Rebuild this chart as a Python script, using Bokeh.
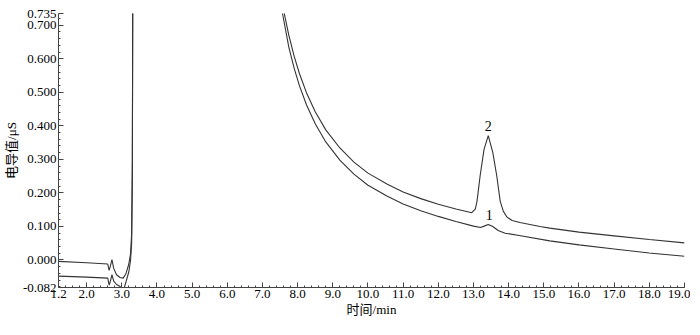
from bokeh.plotting import figure
from bokeh.models import FixedTicker, NumeralTickFormatter, Range1d, ColumnDataSource
from bokeh.core.properties import value
from bokeh.embed import file_html
from bokeh.resources import INLINE

# ---- data ----
time_upper = [1.2, 2.0, 2.6, 2.64, 2.67, 2.72, 2.77, 2.85, 2.95, 3.04, 3.12, 3.2, 3.25, 3.28, 3.30, 3.31, 3.315,
              7.55, 7.62, 7.75, 7.9, 8.05, 8.25, 8.5, 8.8, 9.2, 9.6, 10.0, 10.55, 11.0, 11.5, 12.0, 12.5,
              12.95, 13.05, 13.10, 13.19, 13.3, 13.42, 13.55, 13.66, 13.76, 13.85, 13.95, 14.1, 14.32,
              14.89, 15.17, 16.0, 17.0, 18.0, 19.0]
cond_upper = [-0.004, -0.008, -0.012, -0.031, -0.020, 0.001, -0.025, -0.044, -0.052, -0.054, -0.040, -0.012,
              0.020, 0.080, 0.300, 0.735, 0.800,
              0.800, 0.735, 0.670, 0.608, 0.556, 0.499, 0.442, 0.388, 0.334, 0.292, 0.259, 0.226, 0.203,
              0.183, 0.166, 0.152,
              0.141, 0.152, 0.175, 0.252, 0.330, 0.371, 0.320, 0.252, 0.175, 0.145, 0.128, 0.118, 0.112,
              0.100, 0.095, 0.083, 0.072, 0.061, 0.051]

time_lower = [1.2, 2.0, 2.6, 2.64, 2.67, 2.72, 2.77, 2.85, 2.94, 3.0, 3.06, 3.12, 3.2, 3.25, 3.28, 3.30, 3.31,
              3.315,
              7.5, 7.57, 7.75, 7.9, 8.05, 8.25, 8.5, 8.8, 9.2, 9.6, 10.0, 10.55, 11.0, 11.5, 12.0, 12.5,
              13.0, 13.2, 13.3, 13.42, 13.55, 13.7, 13.9, 14.3, 15.17, 16.0, 17.0, 18.0, 19.0]
cond_lower = [-0.048, -0.051, -0.054, -0.075, -0.065, -0.044, -0.063, -0.073, -0.078, -0.086, -0.086, -0.065,
              -0.035, 0.000, 0.050, 0.250, 0.735, 0.800,
              0.800, 0.735, 0.634, 0.572, 0.520, 0.463, 0.406, 0.352, 0.298, 0.256, 0.223, 0.190, 0.167,
              0.147, 0.130, 0.115,
              0.101, 0.097, 0.101, 0.106, 0.100, 0.088, 0.080, 0.073, 0.057, 0.045, 0.033, 0.021, 0.011]

peak_labels = ["1", "2"]
peak_time = [13.45, 13.42]
peak_label_y = [0.118, 0.385]

x_ticks = [1.2, 2.0, 3.0, 4.0, 5.0, 6.0, 7.0, 8.0, 9.0, 10.0, 11.0, 12.0, 13.0, 14.0, 15.0, 16.0, 17.0, 18.0, 19.0]
y_ticks = [-0.082, 0.0, 0.1, 0.2, 0.3, 0.4, 0.5, 0.6, 0.7, 0.735]
x_minor = [round(1.2 + 0.2 * i, 2) for i in range(90)]
y_minor = [round(-0.08 + 0.02 * i, 3) for i in range(41)]

x_label = "时间/min"
y_label = "电导值/μS"

SERIF = "Liberation Serif"
LABEL_FONT = "Liberation Serif, Noto Sans CJK SC"

p = figure(width=690, height=319, output_backend="svg", toolbar_location=None,
           x_range=Range1d(1.2, 19.0), y_range=Range1d(-0.082, 0.735),
           min_border_left=47, min_border_right=6, min_border_top=13, min_border_bottom=26)
p.outline_line_color = None
p.xgrid.visible = False
p.ygrid.visible = False
p.background_fill_color = "white"

p.line(time_upper, cond_upper, line_color="#333333", line_width=1.1)
p.line(time_lower, cond_lower, line_color="#333333", line_width=1.1)

src = ColumnDataSource(dict(x=peak_time, y=peak_label_y, t=peak_labels))
p.text(x="x", y="y", text="t", source=src, text_font=value(SERIF),
       text_font_size="14px", text_align="center", text_baseline="bottom", text_color="black")

for ax, ticks, minor in ((p.xaxis[0], x_ticks, x_minor), (p.yaxis[0], y_ticks, y_minor)):
    ax.ticker = FixedTicker(ticks=ticks, minor_ticks=minor)
    ax.major_tick_in = 5
    ax.major_tick_out = 0
    ax.minor_tick_in = 2
    ax.minor_tick_out = 0
    ax.axis_line_color = "#444444"
    ax.major_tick_line_color = "#444444"
    ax.minor_tick_line_color = "#444444"
    ax.major_label_text_font = SERIF
    ax.major_label_text_font_size = "13px"
    ax.major_label_text_color = "black"
    ax.axis_label_text_font = LABEL_FONT
    ax.axis_label_text_font_size = "13px"
    ax.axis_label_text_font_style = "normal"
    ax.axis_label_text_color = "black"
    ax.major_label_standoff = 2
    ax.axis_label_standoff = 1

p.xaxis[0].formatter = NumeralTickFormatter(format="0.0")
p.yaxis[0].formatter = NumeralTickFormatter(format="0.000")
p.xaxis[0].axis_label = x_label
p.yaxis[0].axis_label = y_label

open("out.html", "w").write(file_html(p, INLINE))
